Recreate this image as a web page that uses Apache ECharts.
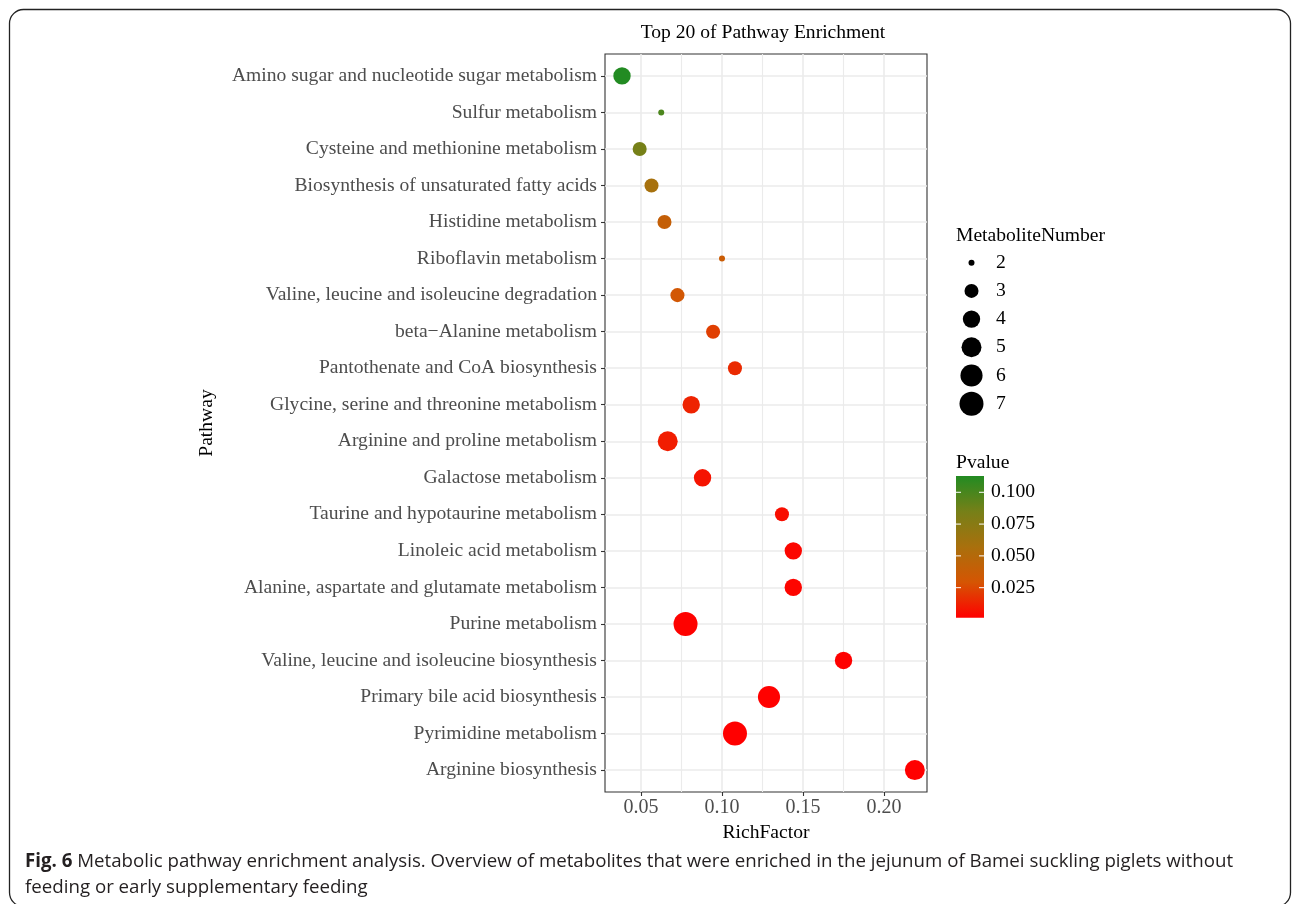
<!DOCTYPE html>
<html><head><meta charset="utf-8">
<script src="https://cdn.jsdelivr.net/npm/echarts@6/dist/echarts.min.js"></script>
<style>html,body{margin:0;padding:0;background:#fff}#c{width:1292px;height:904px}</style>
</head><body><div id="c"></div>
<script>
// ---- data (top to bottom as drawn) ----
const pathways = [
  'Amino sugar and nucleotide sugar metabolism',
  'Sulfur metabolism',
  'Cysteine and methionine metabolism',
  'Biosynthesis of unsaturated fatty acids',
  'Histidine metabolism',
  'Riboflavin metabolism',
  'Valine, leucine and isoleucine degradation',
  'beta\u2212Alanine metabolism',
  'Pantothenate and CoA biosynthesis',
  'Glycine, serine and threonine metabolism',
  'Arginine and proline metabolism',
  'Galactose metabolism',
  'Taurine and hypotaurine metabolism',
  'Linoleic acid metabolism',
  'Alanine, aspartate and glutamate metabolism',
  'Purine metabolism',
  'Valine, leucine and isoleucine biosynthesis',
  'Primary bile acid biosynthesis',
  'Pyrimidine metabolism',
  'Arginine biosynthesis'
];
const richFactor = [0.0383, 0.0625, 0.0492, 0.0565, 0.0645, 0.1000, 0.0725, 0.0945, 0.1080, 0.0810,
                    0.0665, 0.0880, 0.1370, 0.1440, 0.1440, 0.0775, 0.1750, 0.1290, 0.1080, 0.2190];
const metaboliteNumber = [4, 2, 3, 3, 3, 2, 3, 3, 3, 4, 5, 4, 3, 4, 4, 7, 4, 6, 7, 5];
const pValue = [0.1128, 0.0990, 0.0850, 0.0580, 0.0400, 0.0360, 0.0310, 0.0220, 0.0150, 0.0130,
                0.0110, 0.0080, 0.0060, 0.0035, 0.0030, 0.0022, 0.0018, 0.0016, 0.0015, 0.0014];
const xTicks = [0.05, 0.10, 0.15, 0.20];
const xMinorTicks = [0.075, 0.125, 0.175];
const sizeLegend = [2, 3, 4, 5, 6, 7];
const pTicks = [0.025, 0.050, 0.075, 0.100];

// ---- scales / styles ----
const XMIN = 0.0278, XMAX = 0.2265;
const PMIN = Math.min(...pValue), PMAX = Math.max(...pValue);
const pColors = ['#FF0000', '#D55503', '#A9700D', '#768018', '#228B22'];
const sizeFor = n => 6 + 18 * Math.sqrt((n - 2) / 5);
const SERIF = 'Liberation Serif';
const FS = 19.6;
const FONT = FS + 'px "' + SERIF + '"';
const GRID = {left: 605, top: 54, width: 322, height: 738};

const chart = echarts.init(document.getElementById('c'), null, {renderer: 'canvas'});

const yIdx = pathways.map((_, i) => i + 1);
const data = pathways.map((p, i) => [richFactor[i], i + 1, metaboliteNumber[i], pValue[i]]);

const graphics = [];
graphics.push({
  type: 'rect', silent: true,
  shape: {x: 9.5, y: 9.5, width: 1281, height: 897, r: 14},
  style: {fill: 'none', stroke: '#222', lineWidth: 1.3}
});
graphics.push({
  type: 'text', x: 763, y: 33,
  style: {text: 'Top 20 of Pathway Enrichment', font: FONT, fill: '#000', align: 'center', verticalAlign: 'middle'}
});
graphics.push({
  type: 'text', x: 956, y: 236,
  style: {text: 'MetaboliteNumber', font: FONT, fill: '#000', align: 'left', verticalAlign: 'middle'}
});
sizeLegend.forEach((n, i) => {
  const cy = 262.7 + i * 28.2;
  graphics.push({type: 'circle', shape: {cx: 971.5, cy: cy, r: sizeFor(n) / 2}, style: {fill: '#000'}});
  graphics.push({type: 'text', x: 996, y: cy,
    style: {text: String(n), font: FONT, fill: '#000', align: 'left', verticalAlign: 'middle'}});
});
graphics.push({
  type: 'text', x: 956, y: 463,
  style: {text: 'Pvalue', font: FONT, fill: '#000', align: 'left', verticalAlign: 'middle'}
});
const CB = {x: 956, y: 476, w: 28, h: 141.7};
graphics.push({
  type: 'rect', shape: {x: CB.x, y: CB.y, width: CB.w, height: CB.h},
  style: {fill: new echarts.graphic.LinearGradient(0, 1, 0, 0,
    pColors.map((c, i) => ({offset: i / (pColors.length - 1), color: c})))}
});
pTicks.forEach(v => {
  const y = CB.y + CB.h - (v - PMIN) / (PMAX - PMIN) * CB.h;
  graphics.push({type: 'line', shape: {x1: CB.x, y1: y, x2: CB.x + 5, y2: y}, style: {stroke: '#fff', lineWidth: 1}});
  graphics.push({type: 'line', shape: {x1: CB.x + CB.w - 5, y1: y, x2: CB.x + CB.w, y2: y}, style: {stroke: '#fff', lineWidth: 1}});
  graphics.push({type: 'text', x: 991, y: y,
    style: {text: v.toFixed(3), font: FONT, fill: '#000', align: 'left', verticalAlign: 'middle'}});
});
// caption
graphics.push({
  type: 'text', x: 25, y: 849,
  style: {
    text: '{b|Fig. 6} Metabolic pathway enrichment analysis. Overview of metabolites that were enriched in the jejunum of Bamei suckling piglets without\nfeeding or early supplementary feeding',
    fontFamily: 'Open Sans', fontSize: 18.7, fill: '#231f20', lineHeight: 26,
    rich: {b: {fontFamily: 'Open Sans', fontWeight: 'bold', fontSize: 18.7, fill: '#231f20', lineHeight: 26}}
  }
});

const option = {
  backgroundColor: '#fff',
  animation: false,
  grid: {left: GRID.left, top: GRID.top, width: GRID.width, height: GRID.height,
         show: true, borderColor: '#333', borderWidth: 1.1, backgroundColor: '#fff'},
  xAxis: [
    {
      type: 'value', min: XMIN, max: XMAX, position: 'bottom',
      axisLine: {show: false},
      axisTick: {show: false, customValues: xMinorTicks},
      axisLabel: {show: false, customValues: xMinorTicks},
      splitLine: {show: true, lineStyle: {color: '#EBEBEB', width: 1.1}}
    },
    {
      type: 'value', min: XMIN, max: XMAX, position: 'bottom',
      axisLine: {show: false},
      axisTick: {show: true, length: 4, customValues: xTicks, lineStyle: {color: '#333', width: 1.1}},
      axisLabel: {show: true, customValues: xTicks, margin: 6, formatter: v => v.toFixed(2),
                  color: '#4D4D4D', fontFamily: SERIF, fontSize: 20},
      splitLine: {show: true, lineStyle: {color: '#EBEBEB', width: 1.6}},
      name: 'RichFactor', nameLocation: 'middle', nameGap: 26,
      nameTextStyle: {color: '#000', fontFamily: SERIF, fontSize: FS}
    }
  ],
  yAxis: {
    type: 'value', min: 0.4, max: 20.6, inverse: true,
    axisLine: {show: false},
    axisTick: {show: true, length: 4, customValues: yIdx, lineStyle: {color: '#333', width: 1.1}},
    axisLabel: {show: true, customValues: yIdx, margin: 8, formatter: v => pathways[Math.round(v) - 1] || '',
                color: '#4D4D4D', fontFamily: SERIF, fontSize: FS},
    splitLine: {show: true, lineStyle: {color: '#EBEBEB', width: 1.6}},
    name: 'Pathway', nameLocation: 'middle', nameRotate: 90, nameGap: 388,
    nameTextStyle: {color: '#000', fontFamily: SERIF, fontSize: FS}
  },
  visualMap: {
    show: false, type: 'continuous', dimension: 3, min: PMIN, max: PMAX, seriesIndex: 0,
    inRange: {color: pColors}
  },
  series: [{
    type: 'scatter', xAxisIndex: 1, yAxisIndex: 0,
    data: data,
    symbolSize: v => sizeFor(v[2]),
    itemStyle: {opacity: 1},
    encode: {x: 0, y: 1}
  }],
  graphic: graphics
};
chart.setOption(option);
</script></body></html>
